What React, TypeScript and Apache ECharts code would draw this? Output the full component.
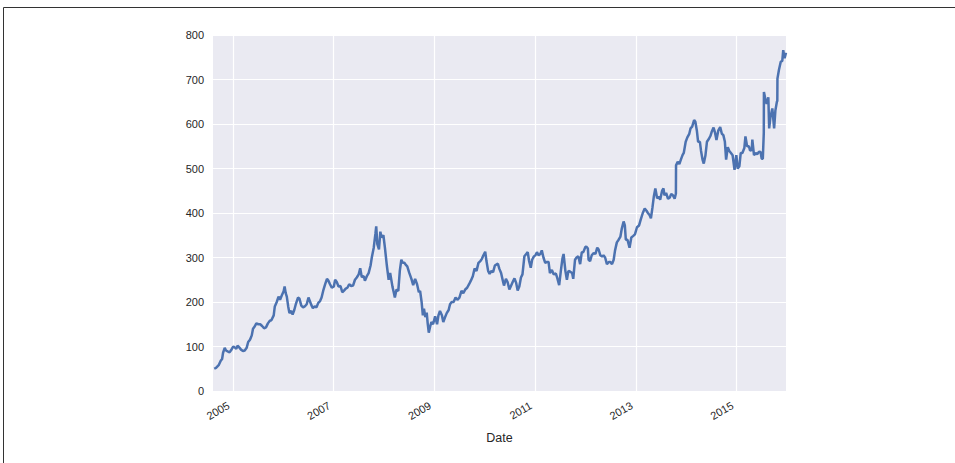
import React, { useEffect, useRef } from "react";
import * as echarts from "echarts";

// Daily close (approximate)
const y2004: [string, number][] = [
  ["2004-08-19", 50], ["2004-09-01", 52], ["2004-09-20", 58], ["2004-10-05", 68],
  ["2004-10-15", 72], ["2004-10-22", 86], ["2004-11-03", 97], ["2004-11-12", 91],
  ["2004-11-24", 89], ["2004-12-08", 87], ["2004-12-20", 92],
];
const y2005: [string, number][] = [
  ["2005-01-03", 100], ["2005-01-14", 98], ["2005-01-26", 95], ["2005-02-04", 102],
  ["2005-02-16", 98], ["2005-03-01", 93], ["2005-03-15", 90], ["2005-03-28", 91],
  ["2005-04-11", 97], ["2005-04-22", 110], ["2005-05-05", 115], ["2005-05-18", 125],
  ["2005-05-27", 140], ["2005-06-08", 145], ["2005-06-20", 152], ["2005-07-05", 150],
  ["2005-07-18", 150], ["2005-08-01", 146], ["2005-08-15", 141], ["2005-08-29", 143],
  ["2005-09-12", 152], ["2005-09-26", 158], ["2005-10-07", 159], ["2005-10-24", 170],
  ["2005-11-01", 190], ["2005-11-15", 200], ["2005-11-28", 212], ["2005-12-09", 205],
  ["2005-12-22", 215],
];
const y2006: [string, number][] = [
  ["2006-01-04", 224], ["2006-01-11", 235], ["2006-01-19", 220], ["2006-01-27", 212],
  ["2006-02-06", 190], ["2006-02-15", 175], ["2006-02-28", 180], ["2006-03-10", 172],
  ["2006-03-22", 182], ["2006-04-03", 196], ["2006-04-18", 210], ["2006-04-28", 208],
  ["2006-05-12", 192], ["2006-05-25", 188], ["2006-06-06", 190], ["2006-06-20", 195],
  ["2006-07-03", 210], ["2006-07-14", 201], ["2006-07-24", 193], ["2006-08-04", 186],
  ["2006-08-17", 190], ["2006-08-30", 188], ["2006-09-12", 198], ["2006-09-25", 202],
  ["2006-10-06", 210], ["2006-10-20", 228], ["2006-11-01", 240], ["2006-11-14", 252],
  ["2006-11-24", 248], ["2006-12-06", 240], ["2006-12-19", 232],
];
const y2007: [string, number][] = [
  ["2007-01-03", 235], ["2007-01-12", 250], ["2007-01-24", 245], ["2007-02-06", 235],
  ["2007-02-20", 236], ["2007-03-05", 222], ["2007-03-16", 225], ["2007-03-30", 230],
  ["2007-04-11", 232], ["2007-04-24", 240], ["2007-05-08", 236], ["2007-05-22", 237],
  ["2007-06-05", 250], ["2007-06-18", 255], ["2007-07-02", 262], ["2007-07-13", 276],
  ["2007-07-24", 256], ["2007-08-08", 258], ["2007-08-16", 248], ["2007-08-30", 258],
  ["2007-09-12", 265], ["2007-09-26", 282], ["2007-10-05", 300], ["2007-10-19", 322],
  ["2007-10-31", 353], ["2007-11-06", 370], ["2007-11-14", 330], ["2007-11-26", 318],
  ["2007-12-06", 358], ["2007-12-14", 345], ["2007-12-28", 350],
];
const y2008: [string, number][] = [
  ["2008-01-08", 322], ["2008-01-22", 282], ["2008-02-04", 250], ["2008-02-15", 265],
  ["2008-03-03", 234], ["2008-03-12", 222], ["2008-03-20", 210], ["2008-04-01", 228],
  ["2008-04-14", 225], ["2008-04-25", 270], ["2008-05-06", 295], ["2008-05-16", 288],
  ["2008-05-28", 288], ["2008-06-06", 284], ["2008-06-18", 280], ["2008-07-02", 266],
  ["2008-07-18", 252], ["2008-07-31", 238], ["2008-08-14", 252], ["2008-08-28", 240],
  ["2008-09-10", 222], ["2008-09-19", 225], ["2008-09-30", 200], ["2008-10-09", 170],
  ["2008-10-17", 185], ["2008-10-27", 166], ["2008-11-06", 176], ["2008-11-13", 152],
  ["2008-11-21", 131], ["2008-12-01", 145], ["2008-12-10", 155], ["2008-12-22", 150],
];
const y2009: [string, number][] = [
  ["2009-01-06", 168], ["2009-01-20", 150], ["2009-01-30", 170], ["2009-02-10", 180],
  ["2009-02-24", 170], ["2009-03-06", 155], ["2009-03-18", 165], ["2009-03-31", 175],
  ["2009-04-14", 182], ["2009-04-24", 195], ["2009-05-06", 200], ["2009-05-20", 200],
  ["2009-06-03", 210], ["2009-06-16", 205], ["2009-07-01", 210], ["2009-07-16", 225],
  ["2009-07-29", 220], ["2009-08-12", 228], ["2009-08-26", 232], ["2009-09-09", 240],
  ["2009-09-22", 248], ["2009-10-06", 258], ["2009-10-19", 275], ["2009-11-02", 270],
  ["2009-11-16", 288], ["2009-11-30", 292], ["2009-12-11", 297], ["2009-12-22", 305],
];
const y2010: [string, number][] = [
  ["2010-01-04", 313], ["2010-01-13", 292], ["2010-01-25", 270], ["2010-02-05", 263],
  ["2010-02-18", 270], ["2010-03-02", 267], ["2010-03-15", 282], ["2010-03-29", 285],
  ["2010-04-06", 286], ["2010-04-16", 275], ["2010-04-29", 265], ["2010-05-10", 250],
  ["2010-05-20", 237], ["2010-06-03", 252], ["2010-06-15", 245], ["2010-06-28", 228],
  ["2010-07-08", 235], ["2010-07-22", 245], ["2010-08-04", 253], ["2010-08-16", 243],
  ["2010-08-27", 226], ["2010-09-08", 235], ["2010-09-20", 255], ["2010-10-01", 262],
  ["2010-10-15", 303], ["2010-10-28", 308], ["2010-11-08", 312], ["2010-11-18", 292],
  ["2010-11-30", 277], ["2010-12-10", 295], ["2010-12-22", 302],
];
const y2011: [string, number][] = [
  ["2011-01-05", 306], ["2011-01-14", 312], ["2011-01-25", 305], ["2011-02-07", 308],
  ["2011-02-18", 316], ["2011-03-02", 300], ["2011-03-15", 288], ["2011-03-28", 290],
  ["2011-04-08", 290], ["2011-04-18", 265], ["2011-05-02", 272], ["2011-05-16", 262],
  ["2011-05-31", 264], ["2011-06-10", 254], ["2011-06-24", 238], ["2011-07-07", 272],
  ["2011-07-18", 298], ["2011-07-26", 308], ["2011-08-08", 270], ["2011-08-19", 250],
  ["2011-08-30", 270], ["2011-09-12", 268], ["2011-09-26", 265], ["2011-10-04", 252],
  ["2011-10-17", 295], ["2011-10-28", 300], ["2011-11-10", 303], ["2011-11-23", 285],
  ["2011-12-05", 312], ["2011-12-16", 312], ["2011-12-30", 323],
];
const y2012: [string, number][] = [
  ["2012-01-06", 325], ["2012-01-18", 320], ["2012-01-23", 295], ["2012-02-03", 292],
  ["2012-02-15", 305], ["2012-02-29", 310], ["2012-03-13", 308], ["2012-03-26", 322],
  ["2012-04-05", 318], ["2012-04-17", 305], ["2012-04-30", 302], ["2012-05-10", 305],
  ["2012-05-22", 300], ["2012-06-04", 285], ["2012-06-18", 290], ["2012-06-29", 290],
  ["2012-07-11", 285], ["2012-07-23", 295], ["2012-08-02", 316], ["2012-08-15", 334],
  ["2012-08-28", 340], ["2012-09-10", 347], ["2012-09-20", 365], ["2012-10-03", 381],
  ["2012-10-12", 372], ["2012-10-19", 340], ["2012-10-31", 340], ["2012-11-15", 322],
  ["2012-11-28", 345], ["2012-12-10", 348], ["2012-12-24", 352],
];
const y2013: [string, number][] = [
  ["2013-01-08", 368], ["2013-01-23", 372], ["2013-02-04", 385], ["2013-02-19", 400],
  ["2013-03-05", 410], ["2013-03-18", 405], ["2013-03-28", 400], ["2013-04-10", 395],
  ["2013-04-19", 388], ["2013-04-30", 412], ["2013-05-10", 437], ["2013-05-21", 455],
  ["2013-06-03", 433], ["2013-06-14", 437], ["2013-06-25", 430], ["2013-07-09", 450],
  ["2013-07-19", 455], ["2013-07-26", 440], ["2013-08-07", 445], ["2013-08-21", 432],
  ["2013-09-03", 435], ["2013-09-13", 443], ["2013-09-25", 440], ["2013-10-08", 432],
  ["2013-10-17", 444], ["2013-10-18", 507], ["2013-10-30", 515], ["2013-11-11", 510],
  ["2013-11-22", 520], ["2013-12-04", 530], ["2013-12-13", 535], ["2013-12-27", 560],
];
const y2014: [string, number][] = [
  ["2014-01-08", 570], ["2014-01-22", 578], ["2014-01-31", 590], ["2014-02-12", 594],
  ["2014-02-26", 609], ["2014-03-07", 605], ["2014-03-18", 585], ["2014-03-27", 560],
  ["2014-04-09", 560], ["2014-04-17", 540], ["2014-04-28", 520], ["2014-05-07", 511],
  ["2014-05-19", 529], ["2014-05-30", 560], ["2014-06-10", 565], ["2014-06-24", 573],
  ["2014-07-03", 582], ["2014-07-17", 592], ["2014-07-28", 580], ["2014-08-07", 564],
  ["2014-08-20", 585], ["2014-09-03", 593], ["2014-09-15", 578], ["2014-09-26", 575],
  ["2014-10-07", 560], ["2014-10-16", 520], ["2014-10-28", 548], ["2014-11-07", 540],
  ["2014-11-20", 535], ["2014-12-02", 530], ["2014-12-16", 497], ["2014-12-29", 530],
];
const y2015: [string, number][] = [
  ["2015-01-08", 500], ["2015-01-20", 505], ["2015-01-30", 535], ["2015-02-11", 535],
  ["2015-02-25", 546], ["2015-03-05", 572], ["2015-03-17", 550], ["2015-03-30", 550],
  ["2015-04-08", 540], ["2015-04-20", 542], ["2015-04-24", 565], ["2015-05-06", 530],
  ["2015-05-18", 535], ["2015-05-29", 532], ["2015-06-10", 537], ["2015-06-22", 538],
  ["2015-07-01", 522], ["2015-07-09", 522], ["2015-07-16", 580], ["2015-07-17", 672],
  ["2015-07-28", 655], ["2015-08-06", 645], ["2015-08-18", 660], ["2015-08-24", 590],
  ["2015-09-02", 615], ["2015-09-16", 635], ["2015-09-29", 590], ["2015-10-08", 630],
  ["2015-10-19", 650], ["2015-10-22", 652], ["2015-10-23", 702], ["2015-11-03", 722],
  ["2015-11-16", 740], ["2015-11-27", 742], ["2015-12-04", 766], ["2015-12-14", 748],
  ["2015-12-24", 760],
];

const yearTicks = ["2005-01-01", "2007-01-01", "2009-01-01", "2011-01-01", "2013-01-01", "2015-01-01"];
const xStart = "2004-08-10";
const xEnd = "2015-12-24";
const yTickStep = 100;
const yMax = 800;

const toTs = (d: string) => Date.parse(d + "T00:00:00Z");

const series = [...y2004, ...y2005, ...y2006, ...y2007, ...y2008, ...y2009, ...y2010,
  ...y2011, ...y2012, ...y2013, ...y2014, ...y2015];

export default function App() {
  const ref = useRef<HTMLDivElement>(null);
  useEffect(() => {
    if (!ref.current) return;
    const chart = echarts.init(ref.current, null, { renderer: "svg" });
    const tickVals = yearTicks.map(toTs);
    chart.setOption({
      animation: false,
      backgroundColor: "#ffffff",
      textStyle: { fontFamily: "Liberation Sans, Arial, sans-serif" },
      graphic: [
        {
          type: "rect",
          shape: { x: 3.5, y: 7.5, width: 1200, height: 1000 },
          style: { fill: "none", stroke: "#333333", lineWidth: 1 },
          silent: true,
        },
      ],
      grid: {
        left: 213,
        right: 169,
        top: 35,
        bottom: 72,
        show: true,
        backgroundColor: "#EAEAF2",
        borderWidth: 0,
      },
      xAxis: {
        type: "value",
        min: toTs(xStart),
        max: toTs(xEnd),
        name: "Date",
        nameLocation: "middle",
        nameGap: 40,
        nameTextStyle: { color: "#262626", fontSize: 12.5 },
        axisLine: { show: false },
        axisTick: { show: false, customValues: tickVals },
        axisLabel: {
          customValues: tickVals,
          rotate: 30,
          margin: 11,
          align: "right",
          verticalAlign: "middle",
          padding: [0, 5, 0, 0],
          color: "#262626",
          fontSize: 11,
          formatter: (v: number) => String(new Date(v).getUTCFullYear()),
        },
        splitLine: { show: true, lineStyle: { color: "#ffffff", width: 1.2 } },
      },
      yAxis: {
        type: "value",
        min: 0,
        max: yMax,
        interval: yTickStep,
        axisLine: { show: false },
        axisTick: { show: false },
        axisLabel: { color: "#262626", fontSize: 11, margin: 9 },
        splitLine: { show: true, lineStyle: { color: "#ffffff", width: 1.2 } },
      },
      series: [
        {
          type: "line",
          data: series.map(([d, v]) => [toTs(d), v]),
          showSymbol: false,
          symbol: "none",
          lineStyle: { color: "#4C72B0", width: 2.5 },
          itemStyle: { color: "#4C72B0" },
        },
      ],
    });
    return () => chart.dispose();
  }, []);
  return (
    <div
      ref={ref}
      style={{ position: "fixed", left: 0, top: 0, width: 955, height: 463 }}
    />
  );
}
